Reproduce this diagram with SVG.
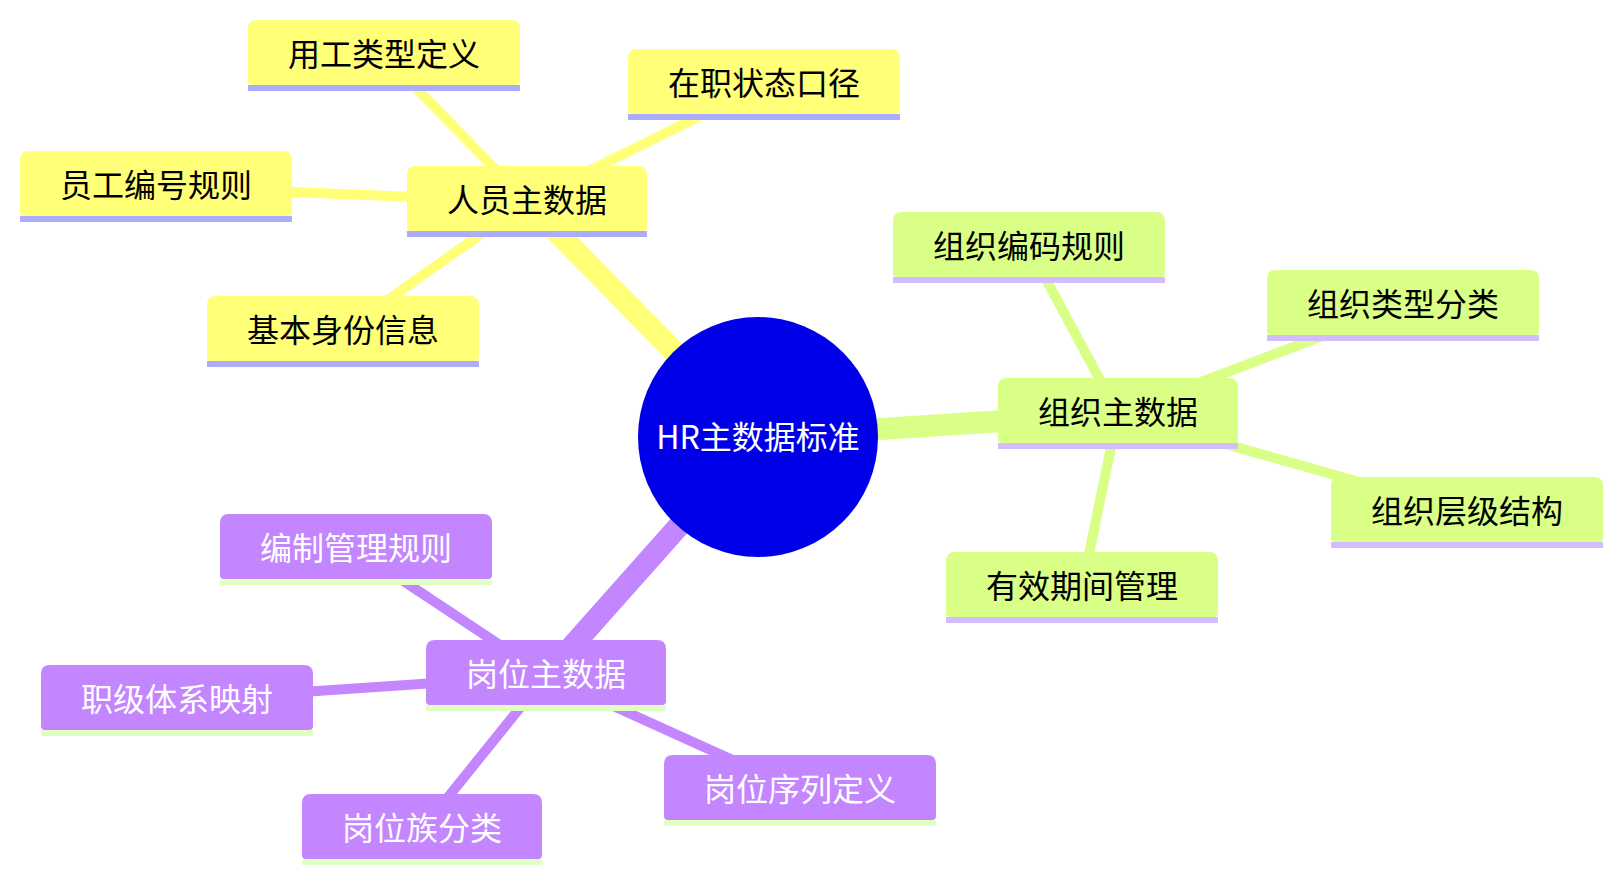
<svg xmlns="http://www.w3.org/2000/svg" width="1622" height="881" viewBox="0 0 1622 881">
<style>
.t{font-family:"Noto Sans CJK SC","Noto Sans",sans-serif;font-size:32px;text-anchor:middle;dominant-baseline:central}
.dk{fill:#000}
.lt{fill:#fff}
.f0{fill:#ffff78}.b0{fill:#acacff}
.f1{fill:#d9ff86}.b1{fill:#d3bdff}
.f2{fill:#c386ff}.b2{fill:#e0ffc2}
.e{fill:none;stroke-linecap:butt}
.e0{stroke:#ffff78}.e1{stroke:#d9ff86}.e2{stroke:#c386ff}
.d0{stroke-width:22}.d1{stroke-width:10}
</style>
<defs>
<path id="s240" d="M0,9 Q0,0 9,0 H231 Q240,0 240,9 V61 Q240,65 236,65 H4 Q0,65 0,61 Z"/>
<path id="s272" d="M0,9 Q0,0 9,0 H263 Q272,0 272,9 V61 Q272,65 268,65 H4 Q0,65 0,61 Z"/>
</defs>
<rect width="1622" height="881" fill="#fff"/>
<g id="connectors">
<line class="e e0 d0" x1="758" y1="437" x2="527" y2="201.5"/>
<line class="e e1 d0" x1="758" y1="437" x2="1118" y2="413.5"/>
<line class="e e2 d0" x1="758" y1="437" x2="546" y2="675.5"/>
<line class="e e0 d1" x1="527" y1="201.5" x2="384" y2="55.5"/>
<line class="e e0 d1" x1="527" y1="201.5" x2="764" y2="84.5"/>
<line class="e e0 d1" x1="527" y1="201.5" x2="156" y2="186.5"/>
<line class="e e0 d1" x1="527" y1="201.5" x2="343" y2="331.5"/>
<line class="e e1 d1" x1="1118" y1="413.5" x2="1029" y2="247.5"/>
<line class="e e1 d1" x1="1118" y1="413.5" x2="1403" y2="305.5"/>
<line class="e e1 d1" x1="1118" y1="413.5" x2="1467" y2="512.5"/>
<line class="e e1 d1" x1="1118" y1="413.5" x2="1082" y2="587.5"/>
<line class="e e2 d1" x1="546" y1="675.5" x2="356" y2="549.5"/>
<line class="e e2 d1" x1="546" y1="675.5" x2="177" y2="700.5"/>
<line class="e e2 d1" x1="546" y1="675.5" x2="422" y2="829.5"/>
<line class="e e2 d1" x1="546" y1="675.5" x2="800" y2="790.5"/>
</g>
<g id="root">
<circle cx="758" cy="437" r="120" fill="#0000e8"/>
<text class="t lt" x="758" y="435">HR主数据标准</text>
</g>
<g id="n1" transform="translate(407,166)"><use href="#s240" class="f0"/><rect y="65" width="240" height="6" class="b0"/><text class="t dk" x="120" y="32">人员主数据</text></g>
<g id="n1a" transform="translate(248,20)"><use href="#s272" class="f0"/><rect y="65" width="272" height="6" class="b0"/><text class="t dk" x="136" y="32">用工类型定义</text></g>
<g id="n1b" transform="translate(628,49)"><use href="#s272" class="f0"/><rect y="65" width="272" height="6" class="b0"/><text class="t dk" x="136" y="32">在职状态口径</text></g>
<g id="n1c" transform="translate(20,151)"><use href="#s272" class="f0"/><rect y="65" width="272" height="6" class="b0"/><text class="t dk" x="136" y="32">员工编号规则</text></g>
<g id="n1d" transform="translate(207,296)"><use href="#s272" class="f0"/><rect y="65" width="272" height="6" class="b0"/><text class="t dk" x="136" y="32">基本身份信息</text></g>
<g id="n2" transform="translate(998,378)"><use href="#s240" class="f1"/><rect y="65" width="240" height="6" class="b1"/><text class="t dk" x="120" y="32">组织主数据</text></g>
<g id="n2a" transform="translate(893,212)"><use href="#s272" class="f1"/><rect y="65" width="272" height="6" class="b1"/><text class="t dk" x="136" y="32">组织编码规则</text></g>
<g id="n2b" transform="translate(1267,270)"><use href="#s272" class="f1"/><rect y="65" width="272" height="6" class="b1"/><text class="t dk" x="136" y="32">组织类型分类</text></g>
<g id="n2c" transform="translate(1331,477)"><use href="#s272" class="f1"/><rect y="65" width="272" height="6" class="b1"/><text class="t dk" x="136" y="32">组织层级结构</text></g>
<g id="n2d" transform="translate(946,552)"><use href="#s272" class="f1"/><rect y="65" width="272" height="6" class="b1"/><text class="t dk" x="136" y="32">有效期间管理</text></g>
<g id="n3" transform="translate(426,640)"><use href="#s240" class="f2"/><rect y="65" width="240" height="6" class="b2"/><text class="t lt" x="120" y="32">岗位主数据</text></g>
<g id="n3a" transform="translate(220,514)"><use href="#s272" class="f2"/><rect y="65" width="272" height="6" class="b2"/><text class="t lt" x="136" y="32">编制管理规则</text></g>
<g id="n3b" transform="translate(41,665)"><use href="#s272" class="f2"/><rect y="65" width="272" height="6" class="b2"/><text class="t lt" x="136" y="32">职级体系映射</text></g>
<g id="n3c" transform="translate(302,794)"><use href="#s240" class="f2"/><rect y="65" width="240" height="6" class="b2"/><text class="t lt" x="120" y="32">岗位族分类</text></g>
<g id="n3d" transform="translate(664,755)"><use href="#s272" class="f2"/><rect y="65" width="272" height="6" class="b2"/><text class="t lt" x="136" y="32">岗位序列定义</text></g>
</svg>
